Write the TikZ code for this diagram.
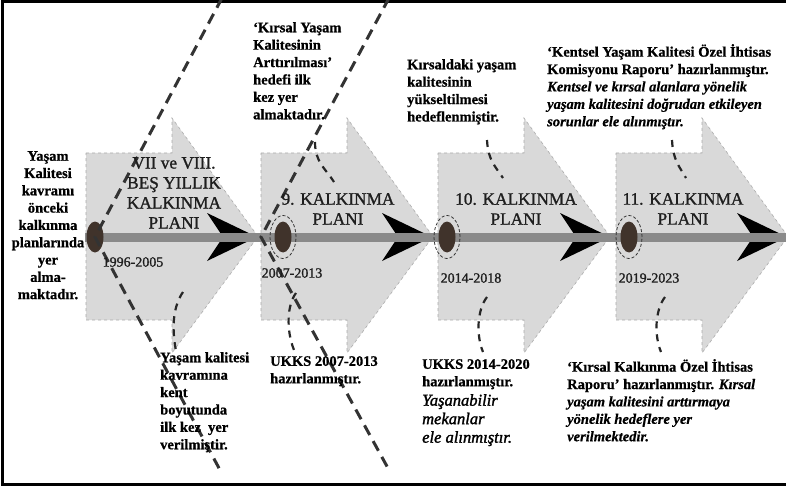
\documentclass[tikz,border=0pt]{standalone}
\usepackage{fontspec}
\setmainfont{Liberation Serif}[BoldFeatures={FakeBold=0.8},BoldItalicFeatures={FakeBold=0.6}]
\newfontfamily\titlefont{Liberation Serif}[FakeBold=1.2]
\newfontfamily\italfont{Liberation Serif}[UprightFont=*, ItalicFont=* Italic, UprightFeatures={FakeBold=1.6}, ItalicFeatures={FakeBold=1.6}]
\definecolor{arrowfill}{HTML}{D9D9D9}
\definecolor{arrowedge}{HTML}{ABABAB}
\definecolor{barcol}{HTML}{8A8A8A}
\definecolor{dotcol}{HTML}{40332B}
\definecolor{dashcol}{HTML}{333333}
\definecolor{titlecol}{HTML}{1E1E1E}
\tikzset{
  grayarrow/.style={fill=arrowfill, draw=arrowedge, dashed, line width=0.6pt},
  blacktip/.style={fill=black},
  bigdash/.style={draw=dashcol, line width=3pt, dash pattern=on 11pt off 7pt},
  smalldash/.style={draw=black!85, line width=2.2pt, dash pattern=on 7pt off 6pt},
  ringdash/.style={draw=black!80, line width=0.8pt, dash pattern=on 3pt off 2pt},
  boldtxt/.style={inner sep=0pt, anchor=north west, align=left,
    font=\bfseries\fontsize{14.5}{17.4}\selectfont},
  titletxt/.style={inner sep=0pt, anchor=north, align=center, text=titlecol,
    font=\titlefont\fontsize{17.3}{20}\selectfont},
  yeartxt/.style={inner sep=0pt, anchor=center, text=titlecol,
    font=\titlefont\fontsize{14}{16}\selectfont},
  ittxt/.style={inner sep=0pt, anchor=north west, align=left,
    font=\italfont\itshape\fontsize{16.5}{18.5}\selectfont}
}
\begin{document}
\begin{tikzpicture}[x=1pt,y=-1pt]
\useasboundingbox (0,0) rectangle (786,489);
\clip (0,0) rectangle (786,489);
% frame
\draw[line width=3pt, black] (786,1.5) -- (2.5,1.5) -- (2.5,484.5) -- (786,484.5);
% gray arrows
\foreach \L in {86,261,438,616}{
  \path[grayarrow] (\L,153) -- ++(86,0) -- ++(0,-35) -- ++(86,118.5) -- ++(-86,116.5) -- ++(0,-33) -- ++(-86,0) -- cycle;
}
% black tips
\foreach \N in {172,347,525,702}{
  \fill[blacktip] (\N+35,213) -- (\N+85,237) -- (\N+35,261) -- (\N+51,237) -- cycle;
}
% bar
\coordinate (barL) at (85,237);
\coordinate (barR) at (790,237);
\draw[barcol, line width=9pt] (barL) -- (barR);
% dots
\coordinate (d1) at (95,237);
\coordinate (d2) at (283,237);
\coordinate (d3) at (447,237);
\coordinate (d4) at (629,237);
\foreach \d in {d1,d2,d3,d4}{
  \fill[dotcol] (\d) ellipse [x radius=8.5pt, y radius=15.5pt];
}
\foreach \d in {d2,d3,d4}{
  \draw[ringdash] (\d) ellipse [x radius=13pt, y radius=21.5pt];
}
% big dashed lines
\coordinate (v1t) at (222,-2);
\coordinate (v1b) at (220,470);
\coordinate (v2) at (261,237);
\coordinate (v2t) at (389,-2);
\coordinate (v2b) at (389,470);
\draw[bigdash] (v1t) -- (d1) -- (v1b);
\draw[bigdash] (v2t) -- (v2) -- (v2b);

% texts
\node[inner sep=0pt, anchor=north, align=center, font=\bfseries\fontsize{14.5}{17.3}\selectfont] (left) at (48,151)
  {Yaşam\\Kalitesi\\kavramı\\önceki\\kalkınma\\planlarında\\yer\\alma-\\maktadır.};

\node[titletxt] (t1) at (174,157) {VII ve VIII.\\BEŞ YILLIK\\KALKINMA\\PLANI};
\node[titletxt] (t2) at (338,193) {9. KALKINMA\\PLANI};
\node[titletxt] (t3) at (516,193) {10. KALKINMA\\PLANI};
\node[titletxt] (t4) at (683,193) {11. KALKINMA\\PLANI};

\node[yeartxt] (y1) at (133,262) {1996-2005};
\node[yeartxt] (y2) at (292,273) {2007-2013};
\node[yeartxt] (y3) at (471,278) {2014-2018};
\node[yeartxt] (y4) at (649,278) {2019-2023};

\node[boldtxt] (u1) at (253,22) {‘Kırsal Yaşam\\Kalitesinin\\Arttırılması’\\hedefi ilk\\kez yer\\almaktadır.};
\node[boldtxt] (u2) at (407,59) {Kırsaldaki yaşam\\kalitesinin\\yükseltilmesi\\hedeflenmiştir.};
\node[boldtxt] (u3) at (547,44) {‘Kentsel Yaşam Kalitesi Özel İhtisas\\Komisyonu Raporu’ hazırlanmıştır.\\
  \textit{Kentsel ve kırsal alanlara yönelik}\\\textit{yaşam kalitesini doğrudan etkileyen}\\\textit{sorunlar ele alınmıştır.}};

\node[boldtxt] (b1) at (160,352) {Yaşam kalitesi\\kavramına\\kent\\boyutunda\\ilk kez\ \ yer\\verilmiştir.};
\node[boldtxt] (b2) at (270,356) {UKKS 2007-2013\\hazırlanmıştır.};
\node[boldtxt] (b3) at (422,359) {UKKS 2014-2020\\hazırlanmıştır.};
\node[ittxt] (b3i) at (422,394) {Yaşanabilir\\mekanlar\\ele alınmıştır.};
\node[boldtxt] (b4) at (567,359) {‘Kırsal Kalkınma Özel İhtisas\\Raporu’ hazırlanmıştır. \textit{Kırsal}\\
  \textit{yaşam kalitesini arttırmaya}\\\textit{yönelik hedeflere yer}\\\textit{verilmektedir.}};

% small dashed connectors
\coordinate (c2a) at (315,142); \coordinate (c2b) at (334,182);
\coordinate (c3a) at (487,140); \coordinate (c3b) at (503,178);
\coordinate (c4a) at (672,140); \coordinate (c4b) at (686,178);
\draw[smalldash] (c2a) .. controls (315,162) and (325,168) .. (c2b);
\draw[smalldash] (c3a) .. controls (488,160) and (495,166) .. (c3b);
\draw[smalldash] (c4a) .. controls (673,160) and (679,166) .. (c4b);

\coordinate (e1a) at (183,292); \coordinate (e1b) at (176,351);
\coordinate (e2a) at (296,293); \coordinate (e2b) at (294,350);
\coordinate (e3a) at (487,297); \coordinate (e3b) at (483,352);
\coordinate (e4a) at (665,297); \coordinate (e4b) at (661,352);
\draw[smalldash] (e1a) .. controls (174,305) and (171,325) .. (e1b);
\draw[smalldash] (e2a) .. controls (287,305) and (286,330) .. (e2b);
\draw[smalldash] (e3a) .. controls (477,310) and (476,335) .. (e3b);
\draw[smalldash] (e4a) .. controls (655,310) and (654,335) .. (e4b);
\end{tikzpicture}
\end{document}
